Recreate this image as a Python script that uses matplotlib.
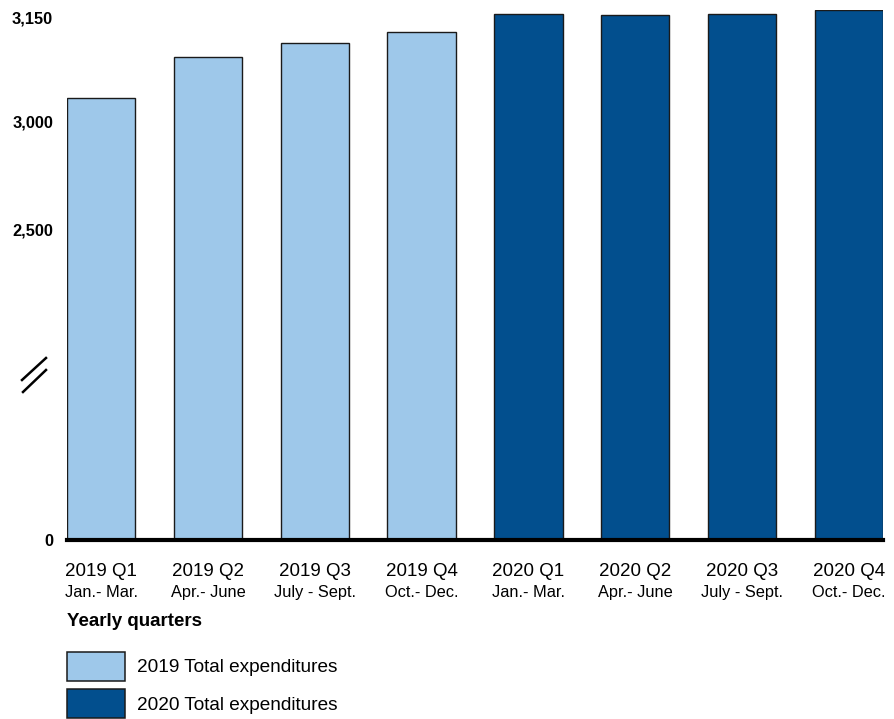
import numpy as np
import matplotlib
matplotlib.use("Agg")
import matplotlib.pyplot as plt
from matplotlib.lines import Line2D
from matplotlib.patches import Patch

plt.rcParams["font.family"] = ["Liberation Sans", "DejaVu Sans"]

# data
quarters = ["2019 Q1", "2019 Q2", "2019 Q3", "2019 Q4",
            "2020 Q1", "2020 Q2", "2020 Q3", "2020 Q4"]
months = ["Jan.- Mar.", "Apr.- June", "July - Sept.", "Oct.- Dec.",
          "Jan.- Mar.", "Apr.- June", "July - Sept.", "Oct.- Dec."]
expenditures = [3034, 3093, 3113, 3129, 3154, 3153, 3154, 3160]
years = [2019, 2019, 2019, 2019, 2020, 2020, 2020, 2020]
y_ticks = [0, 2500, 3000, 3150]
y_tick_labels = ["0", "2,500", "3,000", "3,150"]
legend_labels = ["2019 Total expenditures", "2020 Total expenditures"]

colors = {2019: "#9ec8ea", 2020: "#024f8e"}

# broken axis: piecewise-linear value scale (knots in value units -> relative height)
knot_vals = np.array([0.0, 2500.0, 3000.0, 3150.0])
knot_pos = np.array([0.0, 311.0, 418.0, 523.0])


def _pw(v, xs, ys):
    v = np.asarray(v, dtype=float)
    out = np.interp(v, xs, ys)
    hi_slope = (ys[-1] - ys[-2]) / (xs[-1] - xs[-2])
    lo_slope = (ys[1] - ys[0]) / (xs[1] - xs[0])
    out = np.where(v > xs[-1], ys[-1] + (v - xs[-1]) * hi_slope, out)
    out = np.where(v < xs[0], ys[0] + (v - xs[0]) * lo_slope, out)
    return out


def fwd(v):
    return _pw(v, knot_vals, knot_pos)


def inv(p):
    return _pw(p, knot_pos, knot_vals)


W, H = 894, 719
fig = plt.figure(figsize=(W / 100, H / 100), dpi=100)
ax = fig.add_axes([67 / W, 1 - 540 / H, (883 - 67) / W, (540 - 10) / H])
ax.set_yscale("function", functions=(fwd, inv))

x = np.arange(len(quarters))
ax.bar(x, expenditures, width=0.64,
       color=[colors[y] for y in years],
       edgecolor="#1a1a1a", linewidth=1.0, zorder=2)
ax.axhline(0, color="black", lw=3.0, zorder=3, clip_on=False)

ax.set_xlim(-0.32, len(quarters) - 0.68)
ax.set_ylim(0, 3160)
ax.set_yticks(y_ticks)
ax.set_yticklabels(y_tick_labels, fontsize=11.8, fontweight="bold")
ax.yaxis.set_minor_locator(matplotlib.ticker.NullLocator())
ax.tick_params(axis="y", length=0, pad=10)
ax.set_xticks([])
for s in ax.spines.values():
    s.set_visible(False)

xtr = ax.get_xaxis_transform()
for i, (q, m) in enumerate(zip(quarters, months)):
    ax.annotate(q, xy=(i, 0), xycoords=xtr, xytext=(0, -23),
                textcoords="offset pixels", ha="center", va="top",
                fontsize=13.5)
    ax.annotate(m, xy=(i, 0), xycoords=xtr, xytext=(0, -45),
                textcoords="offset pixels", ha="center", va="top",
                fontsize=11.8)

fig.text(67 / W, 1 - 621 / H, "Yearly quarters", fontsize=13.5,
         fontweight="bold", ha="left", va="center")

# axis break mark
for (x0, y0, x1, y1) in [(22, 380, 46, 358), (23, 392, 46, 370)]:
    fig.add_artist(Line2D([x0 / W, x1 / W], [1 - y0 / H, 1 - y1 / H],
                          transform=fig.transFigure, color="black", lw=1.8))

handles = [Patch(facecolor=colors[2019], edgecolor="#1a1a1a", linewidth=1.1),
           Patch(facecolor=colors[2020], edgecolor="#1a1a1a", linewidth=1.1)]
fig.legend(handles, legend_labels, loc="upper left",
           bbox_to_anchor=(67 / W, 1 - 652 / H), frameon=False,
           fontsize=13.7, handlelength=3.05, handleheight=1.95,
           labelspacing=0.45, handletextpad=0.65, borderpad=0,
           borderaxespad=0)

fig.savefig("out.png", dpi=100)
